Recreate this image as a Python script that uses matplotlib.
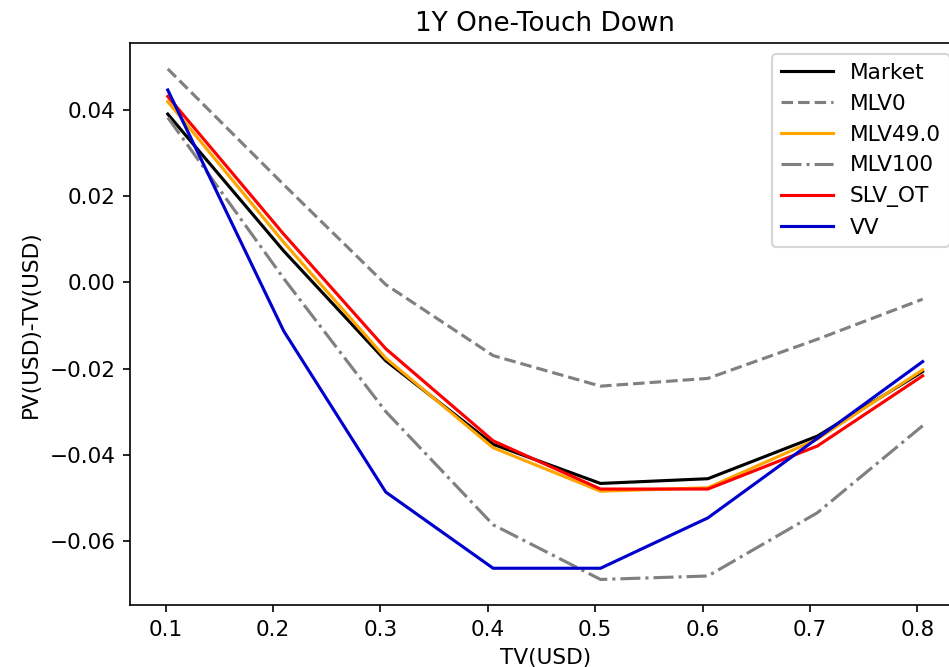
import matplotlib
matplotlib.use("Agg")
import matplotlib.pyplot as plt

# TV levels (x) and PV-TV differences per model
tv = [0.102, 0.21, 0.305, 0.405, 0.505, 0.605, 0.707, 0.805]

market = [0.0391, 0.0073, -0.0182, -0.0376, -0.0467, -0.0456, -0.0357, -0.0207]
mlv0 = [0.0496, 0.0227, -0.0005, -0.0170, -0.0241, -0.0223, -0.0132, -0.0039]
mlv49 = [0.0420, 0.0093, -0.0176, -0.0384, -0.0485, -0.0477, -0.0364, -0.0203]
mlv100 = [0.0383, 0.0009, -0.0300, -0.0563, -0.0690, -0.0682, -0.0535, -0.0333]
slv_ot = [0.0432, 0.0112, -0.0154, -0.0368, -0.0480, -0.0480, -0.0380, -0.0217]
vv = [0.0447, -0.0113, -0.0487, -0.0664, -0.0664, -0.0547, -0.0362, -0.0184]


def main():
    plt.rcParams["font.size"] = 10.4
    fig = plt.figure(figsize=(949 / 150, 667 / 150), dpi=150)
    ax = fig.add_axes([0.137, 0.093, 0.875, 0.842])

    ax.plot(tv, market, color="black", label="Market")
    ax.plot(tv, mlv0, color="grey", linestyle="--", label="MLV0")
    ax.plot(tv, mlv49, color="orange", label="MLV49.0")
    ax.plot(tv, mlv100, color="grey", linestyle="-.", label="MLV100")
    ax.plot(tv, slv_ot, color="red", label="SLV_OT")
    ax.plot(tv, vv, color="mediumblue", label="VV")

    ax.set_title("1Y One-Touch Down", fontsize=12.6)
    ax.set_xlabel("TV(USD)")
    ax.set_ylabel("PV(USD)-TV(USD)")
    ax.legend(loc="upper right", handlelength=2.4)

    fig.savefig("out.png", dpi=150)


if __name__ == "__main__":
    main()
